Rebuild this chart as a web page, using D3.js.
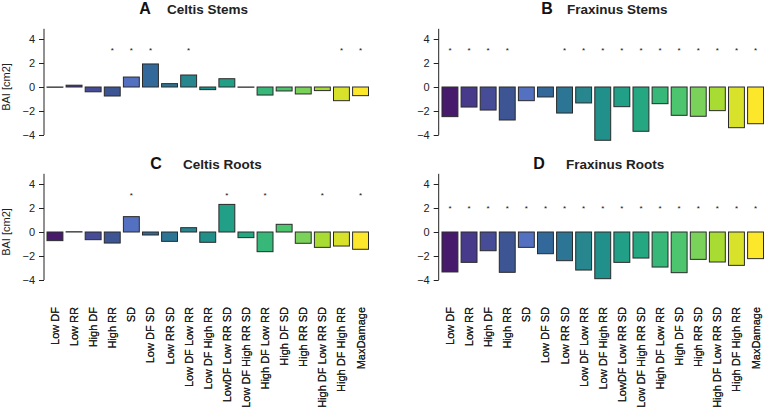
<!DOCTYPE html>
<html><head><meta charset="utf-8">
<script src="https://cdn.jsdelivr.net/npm/d3@7/dist/d3.min.js"></script>
<style>body{margin:0;background:#fff}svg{display:block}text{font-family:"Liberation Sans",Arial,sans-serif}</style>
</head><body><div id="chart"></div>
<script>
const categories = ["Low DF","Low RR","High DF","High RR","SD","Low DF SD","Low RR SD","Low DF Low RR","Low DF High RR","LowDF Low RR SD","Low DF High RR SD","High DF Low RR","High DF SD","High RR SD","High DF Low RR SD","High DF High RR","MaxDamage"];
const celtisStems   = [-0.02,0.15,-0.4,-0.75,0.83,1.92,0.28,1.0,-0.22,0.69,-0.02,-0.67,-0.33,-0.58,-0.3,-1.14,-0.72];
const fraxinusStems = [-2.47,-1.67,-1.92,-2.75,-1.14,-0.83,-2.17,-1.33,-4.44,-1.64,-3.69,-1.39,-2.36,-2.44,-1.97,-3.39,-3.06];
const celtisRoots   = [-0.72,0.02,-0.64,-0.92,1.28,-0.25,-0.78,0.36,-0.86,2.3,-0.47,-1.64,0.64,-0.94,-1.28,-1.17,-1.44];
const fraxinusRoots = [-3.33,-2.53,-1.56,-3.36,-1.28,-1.81,-2.39,-3.17,-3.89,-2.53,-2.17,-2.92,-3.39,-2.28,-2.5,-2.78,-2.22];
const celtisStemsSig   = [0,0,0,1,1,1,0,1,0,0,0,0,0,0,0,1,1];
const fraxinusStemsSig = [1,1,1,1,0,0,1,1,1,1,1,1,1,1,1,1,1];
const celtisRootsSig   = [0,0,0,0,1,0,0,0,0,1,0,1,0,0,1,0,1];
const fraxinusRootsSig = [1,1,1,1,1,1,1,1,1,1,1,1,1,1,1,1,1];
const starLevels = [3.15, 3.15, 3.15, 2.1];
const yTicks = [-4,-2,0,2,4];
const barColors = ["#481a6c","#483a8a","#464c96","#3d5592","#5470c0","#33689a","#2d7595","#28868f","#21908a","#22a087","#25a882","#37b878","#4dc46e","#7bd25a","#a9dc33","#d8e22a","#fde72a"];

const W = 764, H = 412;
const svg = d3.select("#chart").append("svg").attr("width", W).attr("height", H);

const panels = [
  {letter:"A", name:"Celtis Stems",   values:celtisStems,   sig:celtisStemsSig,   star:starLevels[0], axisX:44,    bandX:45.4,  top:39,  letterX:145, nameX:167, titleY:14,  ylab:true},
  {letter:"B", name:"Fraxinus Stems", values:fraxinusStems, sig:fraxinusStemsSig, star:starLevels[1], axisX:438.7, bandX:440.4, top:39,  letterX:547, nameX:567, titleY:14,  ylab:false},
  {letter:"C", name:"Celtis Roots",   values:celtisRoots,   sig:celtisRootsSig,   star:starLevels[2], axisX:44,    bandX:45.4,  top:184, letterX:156, nameX:183, titleY:169, ylab:true},
  {letter:"D", name:"Fraxinus Roots", values:fraxinusRoots, sig:fraxinusRootsSig, star:starLevels[3], axisX:438.7, bandX:440.4, top:184, letterX:539, nameX:566, titleY:169, ylab:false}
];

const step = 19.1;
panels.forEach(p => {
  const g = svg.append("g");
  const y = d3.scaleLinear().domain([-4, 4]).range([p.top + 96, p.top]);
  const x = d3.scaleBand().domain(categories)
    .range([p.bandX, p.bandX + step * categories.length])
    .paddingInner(0.167).paddingOuter(0.0835);

  // y axis
  const ax = g.append("g").attr("transform", `translate(${p.axisX},0)`)
    .call(d3.axisLeft(y).tickValues(yTicks).tickSize(5).tickPadding(4).tickFormat(d => d < 0 ? "\u2212" + Math.abs(d) : d));
  ax.select(".domain").remove();
  ax.append("line").attr("x1",0).attr("x2",0).attr("y1", y(-4)).attr("y2", y(4.85)).attr("stroke","#222");
  ax.selectAll(".tick line").attr("stroke","#222");
  ax.selectAll(".tick text").attr("fill","#222").attr("font-size", 11).attr("font-family","Liberation Sans, Arial, sans-serif");

  // bars
  g.selectAll("rect.bar").data(p.values).join("rect").attr("class","bar")
    .attr("x", (d,i) => x(categories[i]))
    .attr("width", x.bandwidth())
    .attr("y", d => y(Math.max(0, d)))
    .attr("height", d => Math.abs(y(d) - y(0)))
    .attr("fill", (d,i) => barColors[i])
    .attr("stroke", "#2a2a2a").attr("stroke-width", 1);

  // significance stars
  g.selectAll("text.star").data(p.sig.map((s,i)=>({s,i})).filter(d=>d.s)).join("text").attr("class","star")
    .attr("x", d => x(categories[d.i]) + x.bandwidth()/2)
    .attr("y", y(p.star) + 4)
    .attr("text-anchor","middle").attr("font-size", 8).attr("fill","#111")
    .text("*");

  // x labels
  g.selectAll("text.xl").data(categories).join("text").attr("class","xl")
    .attr("transform", d => `translate(${x(d) + x.bandwidth()/2 + 4},307) rotate(-90)`)
    .attr("text-anchor","end").attr("font-size", 11).attr("fill","#222")
    .text(d => d);

  // titles
  g.append("text").attr("x", p.letterX).attr("y", p.titleY).attr("text-anchor","middle")
    .attr("font-size", 16).attr("font-weight","bold").attr("fill","#111").text(p.letter);
  g.append("text").attr("x", p.nameX).attr("y", p.titleY - 0.5)
    .attr("font-size", 13.5).attr("font-weight","bold").attr("fill","#222").text(p.name);

  if (p.ylab) {
    g.append("text").attr("transform", `translate(10,${y(0)}) rotate(-90)`)
      .attr("text-anchor","middle").attr("font-size", 11).attr("fill","#222").text("BAI [cm2]");
  }
});
</script></body></html>
